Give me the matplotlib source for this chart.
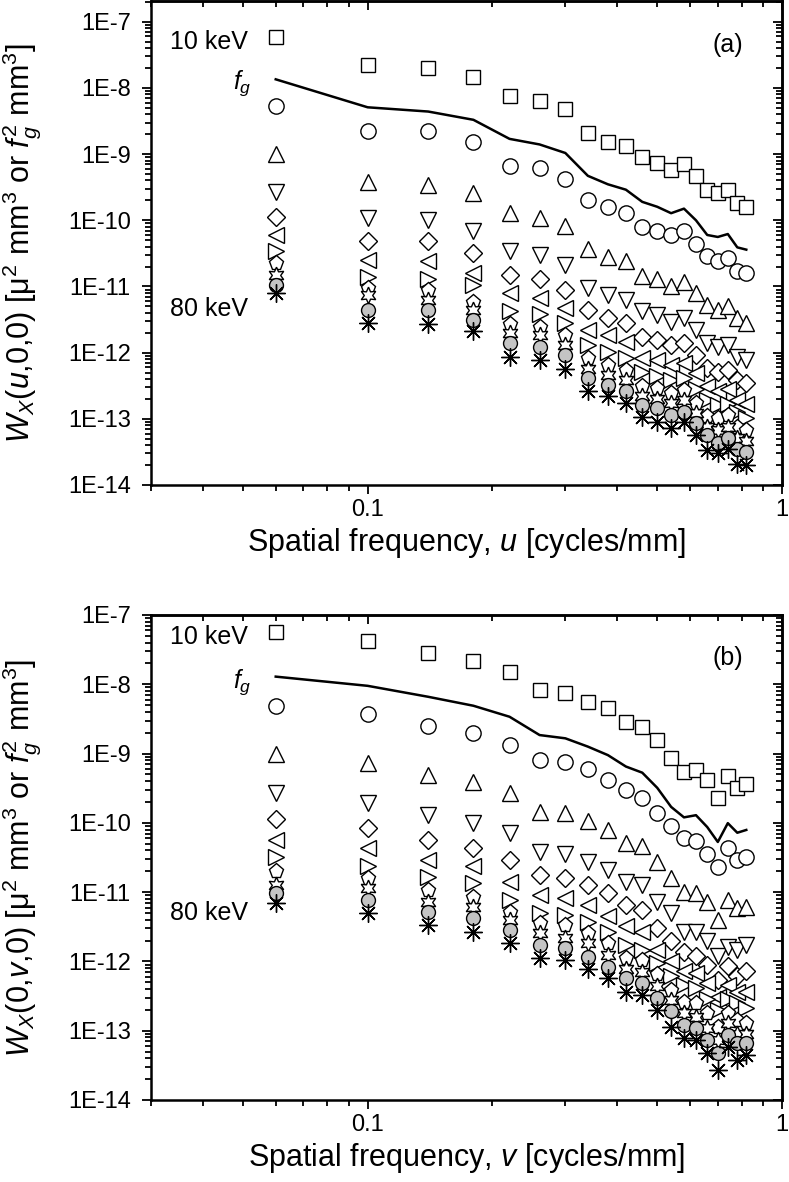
import numpy as np
import matplotlib
matplotlib.use("Agg")
from matplotlib import pyplot as plt
from matplotlib.ticker import FixedLocator, LogLocator, FuncFormatter, NullFormatter

plt.rcParams['font.family'] = ['Liberation Sans', 'DejaVu Sans']
plt.rcParams['mathtext.fontset'] = 'custom'
plt.rcParams['mathtext.rm'] = 'Liberation Sans'
plt.rcParams['mathtext.it'] = 'Liberation Sans:italic'

#DATA------------------------------------------------------------------------------------------------------------------#
# Spatial frequencies [cycles/mm] #
freq = [0.06, 0.10, 0.14, 0.18, 0.22, 0.26, 0.30, 0.34, 0.38, 0.42,
        0.46, 0.50, 0.54, 0.58, 0.62, 0.66, 0.70, 0.74, 0.78, 0.82]

# Panel (a): W_X(u,0,0) #
fg_a = [1.35e-8, 5.1e-9, 4.4e-9, 3.3e-9, 1.7e-9, 1.4e-9, 1.04e-9, 4.7e-10, 3.5e-10, 2.9e-10,
        1.9e-10, 1.6e-10, 1.28e-10, 1.5e-10, 1.0e-10, 6.0e-11, 5.6e-11, 6.2e-11, 3.9e-11, 3.6e-11]
sq_a = [5.9e-8, 2.2e-8, 2.0e-8, 1.44e-8, 7.5e-9, 6.4e-9, 4.8e-9, 2.06e-9, 1.54e-9, 1.34e-9,
        9.2e-10, 7.4e-10, 5.7e-10, 7.1e-10, 4.6e-10, 2.9e-10, 2.6e-10, 2.9e-10, 1.8e-10, 1.6e-10]
circ_a = [5.3e-9, 2.2e-9, 2.2e-9, 1.55e-9, 6.7e-10, 6.1e-10, 4.2e-10, 2.0e-10, 1.58e-10, 1.29e-10,
          7.8e-11, 6.9e-11, 6.0e-11, 6.8e-11, 4.4e-11, 2.9e-11, 2.4e-11, 2.7e-11, 1.7e-11, 1.6e-11]
up_a = [1.0e-9, 3.8e-10, 3.4e-10, 2.6e-10, 1.28e-10, 1.08e-10, 8.1e-11, 3.7e-11, 2.8e-11, 2.4e-11,
        1.45e-11, 1.3e-11, 1.0e-11, 1.15e-11, 7.9e-12, 5.2e-12, 4.4e-12, 5.0e-12, 3.3e-12, 2.8e-12]
down_a = [2.7e-10, 1.07e-10, 1.0e-10, 7.0e-11, 3.4e-11, 3.0e-11, 2.1e-11, 9.4e-12, 7.4e-12, 6.3e-12,
          4.2e-12, 3.7e-12, 2.9e-12, 3.3e-12, 2.2e-12, 1.38e-12, 1.23e-12, 1.3e-12, 8.7e-13, 7.8e-13]
diam_a = [1.13e-10, 4.8e-11, 4.8e-11, 3.2e-11, 1.47e-11, 1.31e-11, 8.9e-12, 4.4e-12, 3.3e-12, 2.8e-12,
          1.73e-12, 1.55e-12, 1.31e-12, 1.38e-12, 9.3e-13, 5.8e-13, 5.1e-13, 5.5e-13, 3.9e-13, 3.5e-13]
left_a = [6.0e-11, 2.5e-11, 2.4e-11, 1.6e-11, 7.9e-12, 6.6e-12, 4.7e-12, 2.2e-12, 1.85e-12, 1.47e-12,
          8.3e-13, 7.8e-13, 6.5e-13, 6.9e-13, 4.9e-13, 3.1e-13, 2.6e-13, 2.8e-13, 1.9e-13, 1.7e-13]
right_a = [3.4e-11, 1.4e-11, 1.3e-11, 1.05e-11, 4.2e-12, 3.9e-12, 2.8e-12, 1.3e-12, 1.03e-12, 8.3e-13,
           5.1e-13, 4.4e-13, 3.9e-13, 4.1e-13, 2.8e-13, 1.9e-13, 1.6e-13, 1.7e-13, 1.28e-13, 1.02e-13]
pent_a = [2.3e-11, 9.4e-12, 8.9e-12, 5.9e-12, 2.75e-12, 2.45e-12, 1.86e-12, 8.3e-13, 6.5e-13, 5.5e-13,
          3.1e-13, 2.9e-13, 2.45e-13, 2.75e-13, 1.74e-13, 1.1e-13, 1.02e-13, 1.15e-13, 7.6e-14, 6.8e-14]
star_a = [1.5e-11, 7.4e-12, 6.3e-12, 4.4e-12, 1.95e-12, 1.86e-12, 1.32e-12, 5.75e-13, 4.6e-13, 3.9e-13,
          2.2e-13, 2.0e-13, 1.74e-13, 1.95e-13, 1.23e-13, 7.6e-14, 6.8e-14, 7.6e-14, 5.1e-14, 4.6e-14]
gray_a = [1.05e-11, 4.4e-12, 4.4e-12, 3.1e-12, 1.38e-12, 1.23e-12, 9.3e-13, 4.1e-13, 3.2e-13, 2.6e-13,
          1.62e-13, 1.45e-13, 1.15e-13, 1.29e-13, 8.5e-14, 5.75e-14, 4.3e-14, 5.1e-14, 3.5e-14, 3.2e-14]
ast_a = [7.9e-12, 2.8e-12, 2.75e-12, 2.1e-12, 8.7e-13, 7.8e-13, 5.75e-13, 2.6e-13, 2.2e-13, 1.74e-13,
         1.07e-13, 9.1e-14, 7.2e-14, 9.1e-14, 5.75e-14, 3.4e-14, 3.0e-14, 3.5e-14, 2.1e-14, 2.0e-14]

# Panel (b): W_X(0,v,0) #
fg_b = [1.29e-8, 9.5e-9, 6.6e-9, 4.9e-9, 3.4e-9, 1.85e-9, 1.66e-9, 1.26e-9, 9.5e-10, 6.5e-10,
        5.3e-10, 3.2e-10, 1.7e-10, 1.2e-10, 1.29e-10, 8.7e-11, 5.3e-11, 9.9e-11, 7.2e-11, 7.9e-11]
sq_b = [5.7e-8, 4.25e-8, 2.8e-8, 2.2e-8, 1.5e-8, 8.3e-9, 7.4e-9, 5.6e-9, 4.5e-9, 2.9e-9,
        2.45e-9, 1.58e-9, 8.6e-10, 5.5e-10, 5.8e-10, 4.2e-10, 2.3e-10, 4.7e-10, 3.2e-10, 3.6e-10]
circ_b = [4.9e-9, 3.7e-9, 2.5e-9, 1.95e-9, 1.32e-9, 8.1e-10, 7.6e-10, 5.9e-10, 4.2e-10, 3.0e-10,
          2.3e-10, 1.41e-10, 9.0e-11, 6.0e-11, 5.4e-11, 3.6e-11, 2.3e-11, 4.3e-11, 2.9e-11, 3.25e-11]
up_b = [1.0e-9, 7.2e-10, 4.9e-10, 3.9e-10, 2.7e-10, 1.45e-10, 1.38e-10, 1.05e-10, 7.8e-11, 5.1e-11,
        4.6e-11, 2.75e-11, 1.6e-11, 1.02e-11, 9.6e-12, 7.3e-12, 3.9e-12, 7.7e-12, 5.9e-12, 6.1e-12]
down_b = [2.7e-10, 1.96e-10, 1.29e-10, 1.0e-10, 7.1e-11, 3.85e-11, 3.6e-11, 2.75e-11, 2.1e-11, 1.4e-11,
          1.26e-11, 7.3e-12, 5.0e-12, 2.7e-12, 2.7e-12, 1.95e-12, 1.18e-12, 1.6e-12, 1.48e-12, 1.74e-12]
diam_b = [1.12e-10, 8.3e-11, 5.6e-11, 4.3e-11, 2.9e-11, 1.78e-11, 1.6e-11, 1.26e-11, 9.6e-12, 6.5e-12,
          5.5e-12, 3.0e-12, 1.95e-12, 1.38e-12, 1.18e-12, 8.9e-13, 5.4e-13, 8.5e-13, 6.1e-13, 7.2e-13]
left_b = [5.6e-11, 4.3e-11, 2.9e-11, 2.35e-11, 1.4e-11, 9.1e-12, 8.1e-12, 6.5e-12, 4.5e-12, 3.2e-12,
          2.7e-12, 1.48e-12, 1.0e-12, 7.2e-13, 6.8e-13, 4.9e-13, 3.1e-13, 4.6e-13, 3.6e-13, 3.6e-13]
right_b = [3.25e-11, 2.35e-11, 1.66e-11, 1.35e-11, 7.7e-12, 5.0e-12, 4.7e-12, 3.7e-12, 2.7e-12, 1.74e-12,
           1.48e-12, 9.4e-13, 6.1e-13, 4.6e-13, 4.1e-13, 2.9e-13, 2.0e-13, 2.9e-13, 2.5e-13, 2.1e-13]
pent_b = [2.0e-11, 1.6e-11, 1.07e-11, 8.6e-12, 5.2e-12, 3.6e-12, 3.4e-12, 2.6e-12, 1.82e-12, 1.12e-12,
          1.05e-12, 6.5e-13, 3.9e-13, 2.6e-13, 2.5e-13, 1.78e-13, 1.15e-13, 1.78e-13, 1.45e-13, 1.29e-13]
star_b = [1.26e-11, 1.15e-11, 7.2e-12, 6.2e-12, 4.0e-12, 2.6e-12, 2.15e-12, 1.82e-12, 1.25e-12, 7.9e-13,
          7.1e-13, 4.4e-13, 2.75e-13, 1.78e-13, 1.6e-13, 1.1e-13, 7.4e-14, 1.29e-13, 9.1e-14, 9.1e-14]
gray_b = [9.6e-12, 7.7e-12, 5.2e-12, 4.2e-12, 2.85e-12, 1.74e-12, 1.55e-12, 1.17e-12, 8.4e-13, 5.7e-13,
          4.9e-13, 2.95e-13, 1.9e-13, 1.2e-13, 1.1e-13, 7.4e-14, 4.8e-14, 8.7e-14, 6.6e-14, 6.6e-14]
ast_b = [6.9e-12, 5.0e-12, 3.4e-12, 2.7e-12, 1.82e-12, 1.12e-12, 1.05e-12, 7.9e-13, 5.7e-13, 3.6e-13,
         3.3e-13, 2.0e-13, 1.15e-13, 7.8e-14, 7.4e-14, 4.8e-14, 2.7e-14, 5.9e-14, 3.8e-14, 4.5e-14]

series_a = [sq_a, circ_a, up_a, down_a, diam_a, left_a, right_a, pent_a, star_a, gray_a, ast_a]
series_b = [sq_b, circ_b, up_b, down_b, diam_b, left_b, right_b, pent_b, star_b, gray_b, ast_b]

# Marker styles, 10 keV (top) -> 80 keV (bottom) #
styles = [
    dict(marker='s', ms=10, mfc='white'),
    dict(marker='o', ms=11, mfc='white'),
    dict(marker='^', ms=12, mfc='white'),
    dict(marker='v', ms=12, mfc='white'),
    dict(marker='D', ms=9, mfc='white'),
    dict(marker='<', ms=12, mfc='white'),
    dict(marker='>', ms=12, mfc='white'),
    dict(marker='p', ms=11, mfc='white'),
    dict(marker=(6, 1, 0), ms=12, mfc='white'),
    dict(marker='o', ms=10, mfc='#c4c4c4'),
    dict(marker=(8, 2, 0), ms=13, mfc='black'),
]

#PLOTTING--------------------------------------------------------------------------------------------------------------#
W, H = 789, 1182
fig = plt.figure(figsize=(W / 100, H / 100), dpi=100)
ax_a = fig.add_axes([151 / W, 1 - 485 / H, 631 / W, 484 / H])
ax_b = fig.add_axes([151 / W, 1 - 1100 / H, 631 / W, 485 / H])

def decade_label(v, pos):
    return "1E%d" % int(round(np.log10(v)))

def setup(ax, ytop, var, ylab):
    ax.set_xscale('log')
    ax.set_yscale('log')
    ax.set_xlim(0.03, 1)
    ax.set_ylim(1e-14, ytop)

    ax.xaxis.set_major_locator(FixedLocator([0.1, 1]))
    ax.xaxis.set_major_formatter(FuncFormatter(lambda v, p: "%g" % v))
    ax.xaxis.set_minor_locator(LogLocator(base=10, subs=np.arange(2, 10)))
    ax.xaxis.set_minor_formatter(NullFormatter())
    ax.yaxis.set_major_locator(LogLocator(base=10, numticks=20))
    ax.yaxis.set_major_formatter(FuncFormatter(decade_label))
    ax.yaxis.set_minor_locator(LogLocator(base=10, subs=np.arange(2, 10), numticks=20))
    ax.yaxis.set_minor_formatter(NullFormatter())

    ax.tick_params(which='both', direction='out', width=1.3, labelsize=17)
    ax.tick_params(which='major', length=6.5)
    ax.tick_params(which='minor', length=4)
    ax.tick_params(axis='y', which='major', pad=8)
    for s in ax.spines.values():
        s.set_linewidth(1.8)

    # Mirror ticks pointing inwards #
    top = ax.secondary_xaxis('top')
    top.xaxis.set_major_locator(FixedLocator([0.1, 1]))
    top.xaxis.set_minor_locator(LogLocator(base=10, subs=np.arange(2, 10)))
    top.tick_params(which='both', direction='in', width=1.3, labeltop=False)
    top.tick_params(which='major', length=6.5)
    top.tick_params(which='minor', length=4)
    right = ax.secondary_yaxis('right')
    right.yaxis.set_major_locator(LogLocator(base=10, numticks=20))
    right.yaxis.set_minor_locator(LogLocator(base=10, subs=np.arange(2, 10), numticks=20))
    right.tick_params(which='both', direction='in', width=1.3, labelright=False)
    right.tick_params(which='major', length=6.5)
    right.tick_params(which='minor', length=4)
    for sec in (top, right):
        for s in sec.spines.values():
            s.set_linewidth(1.8)

    ax.set_xlabel("Spatial frequency, $%s$ [cycles/mm]" % var, fontsize=22, labelpad=4)
    ax.set_ylabel(ylab, fontsize=22)
    ax.yaxis.set_label_coords(-0.171, 0.5)

def draw(ax, fg, series):
    ax.plot(freq, fg, color='black', lw=1.8, zorder=3)
    for vals, st in zip(series, styles):
        ax.plot(freq, vals, linestyle='none', mec='black', mew=1.0, zorder=4, **st)

setup(ax_a, 2.06e-7, 'u', r"$W_X(u{,}0{,}0)$ [μ$^2$ mm$^3$ or $f_g^2$ mm$^3$]")
draw(ax_a, fg_a, series_a)
ax_a.text(0.154, 0.915, "10 keV", transform=ax_a.transAxes, ha='right', va='center', fontsize=18)
ax_a.text(0.160, 0.83, "$f_g$", transform=ax_a.transAxes, ha='right', va='center', fontsize=18)
ax_a.text(0.154, 0.364, "80 keV", transform=ax_a.transAxes, ha='right', va='center', fontsize=18)
ax_a.text(0.914, 0.909, "(a)", transform=ax_a.transAxes, ha='center', va='center', fontsize=18)

setup(ax_b, 1e-7, 'v', r"$W_X(0{,}v{,}0)$ [μ$^2$ mm$^3$ or $f_g^2$ mm$^3$]")
draw(ax_b, fg_b, series_b)
ax_b.text(0.154, 0.955, "10 keV", transform=ax_b.transAxes, ha='right', va='center', fontsize=18)
ax_b.text(0.160, 0.862, "$f_g$", transform=ax_b.transAxes, ha='right', va='center', fontsize=18)
ax_b.text(0.154, 0.386, "80 keV", transform=ax_b.transAxes, ha='right', va='center', fontsize=18)
ax_b.text(0.914, 0.911, "(b)", transform=ax_b.transAxes, ha='center', va='center', fontsize=18)

fig.savefig("out.png", dpi=100)
